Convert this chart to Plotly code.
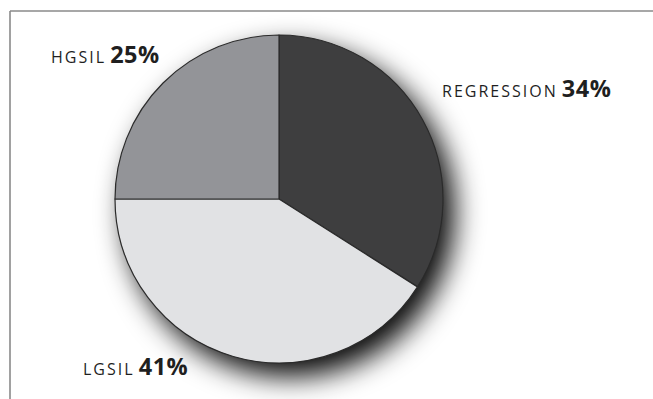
import plotly.graph_objects as go

# Outcome shares
categories = ["REGRESSION", "LGSIL", "HGSIL"]
shares = [34, 41, 25]
slice_colors = ["#3e3e3f", "#e1e2e4", "#939498"]

W, H = 653, 399

def px_x(x):
    return x / W

def px_y(y):
    return 1 - y / H

# Pie geometry in pixels
cx, cy, r = 279, 199, 164

fig = go.Figure(go.Pie(
    labels=categories,
    values=shares,
    sort=False,
    direction="clockwise",
    rotation=0,
    marker=dict(colors=slice_colors, line=dict(color="#2b2b2b", width=1.2)),
    textinfo="none",
    hoverinfo="skip",
    domain=dict(x=[px_x(cx - r), px_x(cx + r)], y=[px_y(cy + r), px_y(cy - r)]),
    showlegend=False,
))

# Label positions (left edge x, text baseline y) in pixels
label_pos = {"HGSIL": (49, 62), "REGRESSION": (440, 96), "LGSIL": (81, 374)}

annotations = []
for name, val in zip(categories, shares):
    x, y = label_pos[name]
    annotations.append(dict(
        x=px_x(x), y=px_y(y - 8), xref="paper", yref="paper",
        xanchor="left", yanchor="middle", showarrow=False,
        text=(f"<span style='letter-spacing:2px'>{name}</span> "
              f"<b><span style='font-size:23.5px;letter-spacing:0.5px'>{val}%</span></b>"),
        font=dict(family="Open Sans, Noto Sans, sans-serif", size=16, color="#1f1f1f"),
    ))

frame = dict(color="#8a8a8a", width=1.6)
shapes = [
    dict(type="line", xref="paper", yref="paper",
         x0=px_x(10), x1=1.0, y0=px_y(11), y1=px_y(11), line=frame),
    dict(type="line", xref="paper", yref="paper",
         x0=px_x(10), x1=px_x(10), y0=px_y(11), y1=0.0, line=frame),
]

fig.update_layout(
    width=W, height=H,
    margin=dict(l=0, r=0, t=0, b=0),
    paper_bgcolor="white", plot_bgcolor="white",
    annotations=annotations, shapes=shapes,
)

# Soft drop shadow under the pie
shadow_js = """
var st = document.createElement('style');
st.textContent = '.pielayer .trace { filter: drop-shadow(11px 13px 14px rgba(10,10,10,1)); }';
document.head.appendChild(st);
"""

fig.write_html("out.html", config={"displayModeBar": False}, post_script=shadow_js)
